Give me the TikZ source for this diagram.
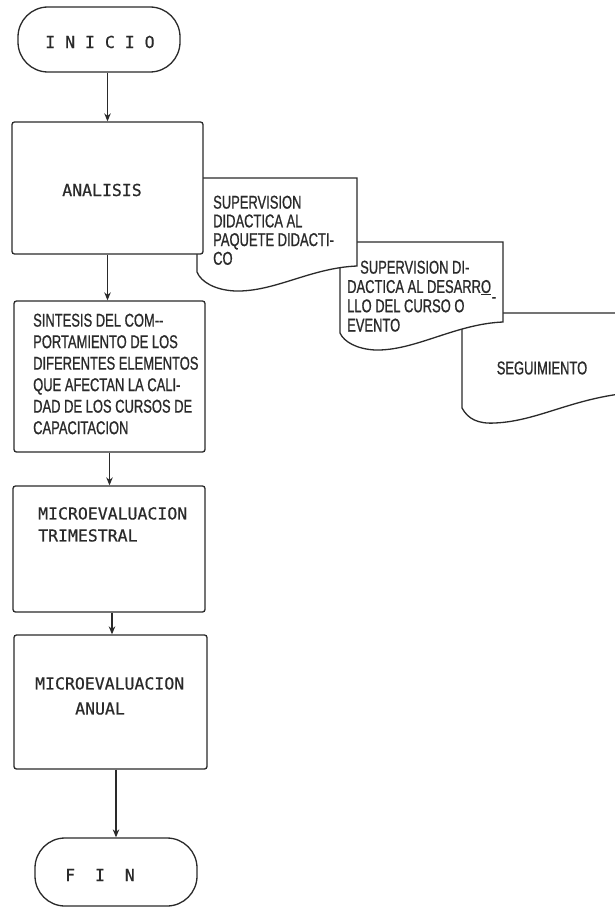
\documentclass[tikz,border=0pt]{standalone}
\usepackage{fontspec}
\newfontfamily\monof[FakeBold=0.6]{DejaVu Sans Mono}
\newfontfamily\condf[FakeStretch=0.7,FakeBold=0.8]{Liberation Sans}
\usetikzlibrary{arrows.meta}
\definecolor{ink}{HTML}{2A2A2A}
\begin{document}
\begin{tikzpicture}[x=1pt,y=-1pt,
  shapeline/.style={draw=ink, line width=1.3pt, fill=white},
  box/.style={shapeline, rectangle, rounded corners=2.5pt, inner sep=0pt},
  term/.style={shapeline, rectangle, rounded corners=30pt, inner sep=0pt, minimum width=162pt},
  mono/.style={inner sep=0pt, text=ink, align=left, font=\monof\fontsize{16.5}{22}\selectfont},
  cond/.style={inner sep=0pt, text=ink, align=left, font=\condf\fontsize{18.5}{19}\selectfont},
  arr/.style={draw=ink, line width=1.2pt, -{Stealth[length=8pt,width=6.5pt]}}]
\useasboundingbox[fill=white] (0,0) rectangle (615,907);

% document shapes (back to front)
\filldraw[shapeline] (640,313) -- (462,313) -- (462,408)
  .. controls (468,419) and (478,424) .. (495,423)
  .. controls (540,421) and (575,396) .. (640,392);
\filldraw[shapeline] (340,333) -- (340,242) -- (503,242) -- (503,322)
  .. controls (455,324) and (415,351) .. (375,350)
  .. controls (357,349) and (344,342) .. (340,333) -- cycle;
\filldraw[shapeline] (197,272) -- (197,178) -- (357,178) -- (357,266)
  .. controls (310,268) and (275,292) .. (235,291)
  .. controls (215,290) and (201,282) .. (197,272) -- cycle;

% terminals and boxes
\node[term, minimum height=65pt] (inicio) at (99,39.5) {};
\node[box, minimum width=191pt, minimum height=132pt] (analisis) at (107.5,188) {};
\node[box, minimum width=191pt, minimum height=151pt] (sintesis) at (109.5,376.5) {};
\node[box, minimum width=192pt, minimum height=126pt] (trim) at (109,549) {};
\node[box, minimum width=193pt, minimum height=134pt] (anual) at (110.5,702) {};
\node[term, minimum height=68pt] (fin) at (116,872) {};

% texts
\node[mono] (tinicio) at (100,42) {I N I C I O};
\node[mono] (tanalisis) at (102,190) {ANALISIS};
\node[cond, anchor=north west, font=\condf\fontsize{18.5}{18.7}\selectfont] (tdoc1) at (213,195.5)
  {SUPERVISION\\DIDACTICA AL\\PAQUETE DIDACTI-\\CO};
\node[cond, anchor=north west, font=\condf\fontsize{18.5}{19.3}\selectfont] (tdoc2) at (347,260.5)
  {\hspace*{13pt}SUPERVISION DI-\\DACTICA AL DESARR\underline{O}\\LLO DEL CURSO O\\EVENTO};
\node[cond] (tdash) at (494,300) {-};
\node[cond] (tdoc3) at (542,368) {SEGUIMIENTO};
\node[cond, anchor=north west, font=\condf\fontsize{18.5}{21.5}\selectfont] (tsintesis) at (33,313.5)
  {SINTESIS DEL COM--\\PORTAMIENTO DE LOS\\DIFERENTES ELEMENTOS\\QUE AFECTAN LA CALI-\\DAD DE LOS CURSOS DE\\CAPACITACION};
\node[mono, anchor=north west] (ttrim) at (38,507) {MICROEVALUACION\\TRIMESTRAL};
\node[mono, anchor=north west, font=\monof\fontsize{16.5}{25}\selectfont] (tanual) at (35,677)
  {MICROEVALUACION\\\hspace*{40pt}ANUAL};
\node[mono] (tfin) at (100,875) {F\ \ I\ \ N};

% connectors
\draw[arr] (analisis.north |- inicio.south) -- (analisis.north);
\draw[arr] (analisis.south) -- (analisis.south |- sintesis.north);
\draw[arr] (sintesis.south) -- (sintesis.south |- trim.north);
\draw[arr] ([xshift=3pt]trim.south) -- ([xshift=3pt]trim.south |- anual.north);
\draw[arr] (fin.north |- anual.south) -- (fin.north);
\end{tikzpicture}
\end{document}
